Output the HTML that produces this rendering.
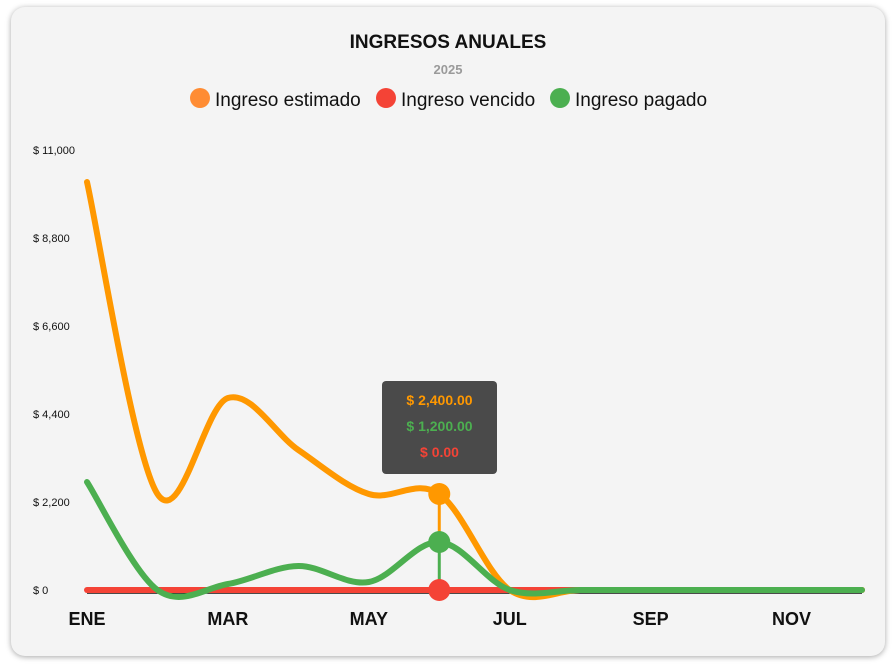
<!DOCTYPE html>
<html><head><meta charset="utf-8"><style>
body{margin:0;width:896px;height:664px;background:#fff;font-family:"Liberation Sans",sans-serif;overflow:hidden}
#card{position:absolute;left:11px;top:7px;width:874px;height:649px;background:#f4f4f4;border-radius:14px;box-shadow:0 1px 6px rgba(0,0,0,0.35)}
svg{position:absolute;left:0;top:0}
</style></head><body>
<div id="card"></div>
<svg id="chart" width="896" height="664">
<text x="448" y="48" text-anchor="middle" font-size="19" font-weight="bold" fill="#111">INGRESOS ANUALES</text>
<text x="448" y="74" text-anchor="middle" font-size="13" font-weight="bold" fill="#9a9a9a">2025</text>
<g id="legend"></g>
<g id="yaxis"></g>
<g id="xaxis"></g>
<g id="series"></g>
<g id="tip"></g>
</svg>
<script>
const categories=["ENE","FEB","MAR","ABR","MAY","JUN","JUL","AGO","SEP","OCT","NOV","DIC"];
const xLabels=["ENE","MAR","MAY","JUL","SEP","NOV"];
const yTicks=[0,2200,4400,6600,8800,11000];
const estimado=[10200,2400,4800,3500,2400,2400,0,0,0,0,0,0];
const vencido=[0,0,0,0,0,0,0,0,0,0,0,0];
const pagado=[2700,0,150,600,200,1200,0,0,0,0,0,0];
const seriesNames=["Ingreso estimado","Ingreso vencido","Ingreso pagado"];
const hoverIndex=5;

const NS="http://www.w3.org/2000/svg";
const X0=87,X1=862,Y0=590,Y1=150,YMAX=11000;
const xs=i=>X0+(X1-X0)*i/(categories.length-1);
const ys=v=>Y0-(Y0-Y1)*v/YMAX;
function mk(t,a,p){const e=document.createElementNS(NS,t);for(const k in a)e.setAttribute(k,a[k]);p.appendChild(e);return e;}
const fmt=v=>v.toLocaleString('en-US');
const yg=document.getElementById('yaxis');
yTicks.forEach(v=>{const t=mk('text',{x:33,y:ys(v)+4,'font-size':11,fill:'#111'},yg);t.textContent='$ '+fmt(v);
});
const xg=document.getElementById('xaxis');
mk('line',{x1:X0,x2:X1,y1:Y0+3,y2:Y0+3,stroke:'#111','stroke-width':1.5},xg);
xLabels.forEach(l=>{const i=categories.indexOf(l);const t=mk('text',{x:xs(i),y:625,'text-anchor':'middle','font-size':18,'font-weight':'bold',fill:'#111'},xg);t.textContent=l;
});
function path(vals){const p=vals.map((v,i)=>[xs(i),ys(v)]);let d='M'+p[0][0]+','+p[0][1];
for(let i=0;i<p.length-1;i++){const a=p[i-1]||p[i],b=p[i],c=p[i+1],e=p[i+2]||c;const k=1/6;
d+=' C'+(b[0]+(c[0]-a[0])*k)+','+(b[1]+(c[1]-a[1])*k)+' '+(c[0]-(e[0]-b[0])*k)+','+(c[1]-(e[1]-b[1])*k)+' '+c[0]+','+c[1];}return d;}
const sg=document.getElementById('series');
const cols=["#ff9800","#f44336","#4caf50"];
const data=[estimado,vencido,pagado];
const lnames=['line-estimado','line-vencido','line-pagado'];
[1,0,2].forEach(s=>{const e=mk('path',{d:path(data[s]),fill:'none',stroke:cols[s],'stroke-width':6,'stroke-linecap':'round'},sg);
});
const hx=xs(hoverIndex);
mk('line',{x1:hx,x2:hx,y1:ys(estimado[hoverIndex]),y2:ys(pagado[hoverIndex]),stroke:cols[0],'stroke-width':3},sg);
mk('line',{x1:hx,x2:hx,y1:ys(pagado[hoverIndex]),y2:ys(vencido[hoverIndex]),stroke:cols[2],'stroke-width':3},sg);
[0,2,1].forEach(s=>{const c=mk('circle',{cx:hx,cy:ys(data[s][hoverIndex]),r:11,fill:cols[s]},sg);
});
const lg=document.getElementById('legend');
const lx=[200,386,560];
seriesNames.forEach((n,i)=>{mk('circle',{cx:lx[i],cy:98,r:10,fill:i==0?'#ff8c33':cols[i]},lg);
const t=mk('text',{x:lx[i]+15,y:106,'font-size':19,fill:'#111'},lg);t.textContent=n;
});
const tg=document.getElementById('tip');
mk('rect',{x:382,y:381,width:115,height:93,rx:4,fill:'#4a4a4a'},tg);
[[estimado,cols[0],405],[pagado,cols[2],431],[vencido,cols[1],457]].forEach(r=>{const t=mk('text',{x:439.5,y:r[2],'text-anchor':'middle','font-size':14,'font-weight':'bold',fill:r[1]},tg);
t.textContent='$ '+r[0][hoverIndex].toLocaleString('en-US',{minimumFractionDigits:2});
});
</script>
</body></html>
